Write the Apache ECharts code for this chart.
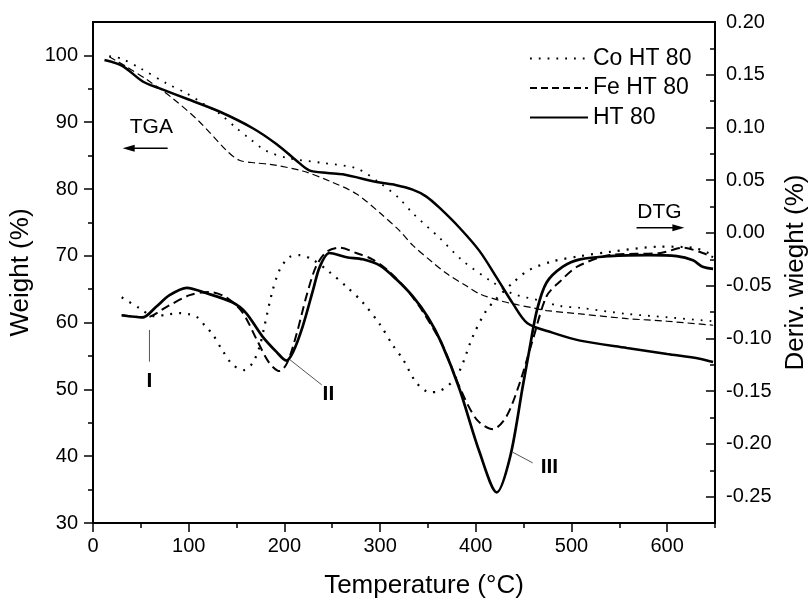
<!DOCTYPE html>
<html>
<head>
<meta charset="utf-8">
<script src="https://cdn.jsdelivr.net/npm/echarts@6/dist/echarts.min.js"></script>
<style>
html, body { margin: 0; padding: 0; background: #fff; }
#chart { width: 808px; height: 598px; }
</style>
</head>
<body>
<div id="chart"></div>
<script>
// TGA curves: [temperature, weight %]
var tgaCo = [[17,99.9],[30,99.5],[49,98.1],[77,95.8],[98,94.3],[115,92.8],[132,91.3],[150,89.1],[164,87.5],[181,85.7],[205,84.6],[240,83.9],[275,83.1],[299,81.0],[320,78.6],[334,76.4],[362,72.7],[386,69.3],[415,66.3],[439,64.3],[467,63.3],[488,62.5],[509,62.2],[558,61.3],[600,60.8],[648,60.2]];
var tgaFe = [[17,99.8],[35,98.3],[56,96.4],[83,93.6],[111,90.1],[140,85.7],[153,84.3],[170,83.9],[185,83.7],[219,82.7],[247,81.2],[275,79.3],[300,76.4],[320,73.8],[334,71.6],[355,69.0],[370,67.3],[390,65.5],[404,64.3],[425,63.3],[439,62.8],[460,62.2],[474,61.8],[509,61.3],[558,60.6],[600,60.2],[648,59.6]];
var tgaHT = [[12,99.3],[31,98.4],[52,96.1],[69,95.1],[100,93.4],[132,91.6],[167,89.1],[192,86.7],[213,84.2],[226,82.8],[245,82.4],[261,82.2],[298,81.0],[316,80.6],[334,79.9],[348,78.9],[362,77.2],[383,74.2],[404,70.7],[422,66.7],[439,62.8],[454,59.9],[480,58.5],[509,57.3],[558,56.2],[600,55.3],[634,54.6],[648,54.1]];

// DTG curves: [temperature, deriv. weight %]
var dtgCo = [[30,-0.061],[48,-0.071],[64,-0.079],[80,-0.077],[90,-0.076],[100,-0.077],[109,-0.080],[118,-0.089],[125,-0.096],[135,-0.111],[146,-0.125],[158,-0.130],[167,-0.123],[174,-0.108],[179,-0.089],[187,-0.057],[195,-0.035],[205,-0.023],[216,-0.021],[229,-0.025],[247,-0.037],[265,-0.051],[282,-0.066],[300,-0.087],[313,-0.106],[324,-0.120],[338,-0.142],[352,-0.151],[362,-0.150],[380,-0.136],[397,-0.098],[410,-0.075],[422,-0.062],[439,-0.047],[456,-0.035],[480,-0.027],[509,-0.022],[540,-0.018],[593,-0.013],[627,-0.014],[643,-0.019],[650,-0.023]];
var dtgFe = [[30,-0.078],[56,-0.080],[77,-0.070],[101,-0.059],[122,-0.056],[139,-0.061],[156,-0.075],[171,-0.101],[184,-0.123],[195,-0.131],[203,-0.123],[213,-0.095],[223,-0.060],[233,-0.032],[244,-0.018],[258,-0.014],[275,-0.019],[292,-0.025],[310,-0.037],[328,-0.054],[345,-0.075],[366,-0.108],[383,-0.146],[401,-0.177],[418,-0.186],[432,-0.174],[446,-0.142],[460,-0.100],[474,-0.060],[488,-0.046],[506,-0.032],[540,-0.021],[593,-0.019],[617,-0.014],[637,-0.019],[648,-0.023]];
var dtgHT = [[30,-0.078],[52,-0.080],[66,-0.070],[80,-0.059],[98,-0.052],[118,-0.057],[146,-0.066],[160,-0.076],[177,-0.098],[192,-0.113],[202,-0.121],[209,-0.113],[219,-0.089],[230,-0.054],[237,-0.032],[247,-0.019],[265,-0.023],[282,-0.025],[300,-0.031],[317,-0.044],[334,-0.060],[350,-0.080],[364,-0.104],[383,-0.148],[404,-0.208],[422,-0.246],[436,-0.212],[449,-0.146],[456,-0.111],[464,-0.073],[474,-0.047],[491,-0.032],[509,-0.025],[540,-0.022],[580,-0.021],[610,-0.022],[627,-0.026],[637,-0.032],[648,-0.034]];

var legendNames = ['Co HT 80', 'Fe HT 80', 'HT 80'];

// tick values
var xTicks = [0, 100, 200, 300, 400, 500, 600];
var xMinor = [50, 150, 250, 350, 450, 550, 650];
var wTicks = [30, 40, 50, 60, 70, 80, 90, 100];
var wMinor = [35, 45, 55, 65, 75, 85, 95];
var dTicks = [-0.25, -0.2, -0.15, -0.1, -0.05, 0, 0.05, 0.1, 0.15, 0.2];
var dMinor = [-0.225, -0.175, -0.125, -0.075, -0.025, 0.025, 0.075, 0.125, 0.175];

// annotations, in data units (x, weight) or (x, deriv)
var tgaArrow = { from: [78, 86.1], to: [31, 86.1], text: 'TGA', textAt: [61, 89.3] };
var dtgArrow = { from: [568, 0.005], to: [618, 0.005], text: 'DTG', textAt: [592, 0.0196] };
var peakLabels = [
  { text: 'I', at: [59, -0.141], from: [59, -0.092], to: [59, -0.122] },
  { text: 'II', at: [246, -0.153], from: [205.5, -0.120], to: [239, -0.144] },
  { text: 'III', at: [477, -0.222], from: [438.8, -0.208], to: [459.5, -0.218] }
];

var font = "'Liberation Sans', Arial, sans-serif";
var chart = echarts.init(document.getElementById('chart'));

function axisBase(min, max) {
  return {
    type: 'value', min: min, max: max,
    splitLine: { show: false },
    axisLine: { show: true, onZero: false, lineStyle: { color: '#000', width: 2 } }
  };
}

var xMain = axisBase(0, 650);
xMain.position = 'bottom';
xMain.axisTick = { customValues: xTicks, length: 9, lineStyle: { color: '#000', width: 1.5 } };
xMain.axisLabel = { customValues: xTicks, fontSize: 20, color: '#000', fontFamily: font, margin: 13 };
xMain.name = 'Temperature (°C)';
xMain.nameLocation = 'middle';
xMain.nameGap = 50;
xMain.nameTextStyle = { fontSize: 26, color: '#000', fontFamily: font, padding: [0, 0, 0, 40] };

var xMin = axisBase(0, 650);
xMin.position = 'bottom';
xMin.axisLine.show = false;
xMin.axisTick = { customValues: xMinor, length: 5, lineStyle: { color: '#000', width: 1.5 } };
xMin.axisLabel = { show: false };

var yW = axisBase(30, 105);
yW.position = 'left';
yW.axisTick = { customValues: wTicks, length: 9, lineStyle: { color: '#000', width: 1.5 } };
yW.axisLabel = { customValues: wTicks, fontSize: 20, color: '#000', fontFamily: font, margin: 15 };
yW.name = 'Weight (%)';
yW.nameLocation = 'middle';
yW.nameRotate = 90;
yW.nameGap = 58;
yW.nameTextStyle = { fontSize: 26, color: '#000', fontFamily: font };

var yWmin = axisBase(30, 105);
yWmin.position = 'left';
yWmin.axisLine.show = false;
yWmin.axisTick = { customValues: wMinor, length: 5, lineStyle: { color: '#000', width: 1.5 } };
yWmin.axisLabel = { show: false };

var yD = axisBase(-0.275, 0.2);
yD.position = 'right';
yD.axisTick = { customValues: dTicks, inside: true, length: 9, lineStyle: { color: '#000', width: 1.5 } };
yD.axisLabel = { customValues: dTicks, fontSize: 20, color: '#000', fontFamily: font, margin: 11,
  formatter: function (v) { return v.toFixed(2); } };
yD.name = 'Deriv. wieght (%)';
yD.nameLocation = 'middle';
yD.nameRotate = 90;
yD.nameGap = 68;
yD.nameTextStyle = { fontSize: 26, color: '#000', fontFamily: font };

var yDmin = axisBase(-0.275, 0.2);
yDmin.position = 'right';
yDmin.axisLine.show = false;
yDmin.axisTick = { customValues: dMinor, inside: true, length: 5, lineStyle: { color: '#000', width: 1.5 } };
yDmin.axisLabel = { show: false };

function curve(name, data, yIdx, width, type) {
  return {
    name: name, type: 'line', data: data,
    xAxisIndex: 0, yAxisIndex: yIdx,
    showSymbol: false, symbol: 'none', smooth: 0.3,
    lineStyle: { color: '#000', width: width, type: type },
    itemStyle: { color: '#000' },
    silent: true
  };
}

var option = {
  animation: false,
  backgroundColor: '#fff',
  grid: { left: 93, right: 93, top: 22, bottom: 75, outerBoundsMode: 'none', containLabel: false,
    show: true, borderColor: '#000', borderWidth: 2, backgroundColor: 'transparent' },
  legend: {
    data: legendNames,
    orient: 'vertical',
    left: 524, top: 42,
    itemWidth: 58, itemHeight: 20, itemGap: 6.5,
    itemStyle: { opacity: 0, borderWidth: 0 },
    textStyle: { fontSize: 23, color: '#000', fontFamily: font },
    selectedMode: false
  },
  xAxis: [xMain, xMin],
  yAxis: [yW, yWmin, yD, yDmin],
  series: [
    curve('Co HT 80', tgaCo, 0, 1.8, [1.8, 7]),
    curve('Fe HT 80', tgaFe, 0, 1.2, [7, 4]),
    curve('HT 80', tgaHT, 0, 2.5, 'solid'),
    curve('Co HT 80', dtgCo, 2, 2.2, [2, 7]),
    curve('Fe HT 80', dtgFe, 2, 2, [9, 5]),
    curve('HT 80', dtgHT, 2, 2.7, 'solid')
  ]
};
chart.setOption(option);

// annotations placed from data units
function px(pt, yIdx) {
  return chart.convertToPixel({ xAxisIndex: 0, yAxisIndex: yIdx }, pt);
}
function arrowGraphic(a, yIdx) {
  var p0 = px(a.from, yIdx), p1 = px(a.to, yIdx), t = px(a.textAt, yIdx);
  var dir = p1[0] > p0[0] ? 1 : -1;
  return [
    { type: 'line', shape: { x1: p0[0], y1: p0[1], x2: p1[0] - dir * 8, y2: p1[1] }, style: { stroke: '#000', lineWidth: 1.5 } },
    { type: 'polygon', shape: { points: [[p1[0], p1[1]], [p1[0] - dir * 12, p1[1] - 3.5], [p1[0] - dir * 12, p1[1] + 3.5]] }, style: { fill: '#000' } },
    { type: 'text', x: t[0], y: t[1], style: { text: a.text, fontSize: 21, fontFamily: font, fill: '#000', align: 'center', verticalAlign: 'middle' } }
  ];
}
var g = [].concat(arrowGraphic(tgaArrow, 0), arrowGraphic(dtgArrow, 2));
peakLabels.forEach(function (p) {
  var a = px(p.from, 2), b = px(p.to, 2), t = px(p.at, 2);
  g.push({ type: 'line', shape: { x1: a[0], y1: a[1], x2: b[0], y2: b[1] }, style: { stroke: '#555', lineWidth: 1 } });
  g.push({ type: 'text', x: t[0], y: t[1], style: { text: p.text, fontSize: 21, fontWeight: 'bold', fontFamily: font, fill: '#000', align: 'center', verticalAlign: 'middle' } });
});
chart.setOption({ graphic: g });
</script>
</body>
</html>
